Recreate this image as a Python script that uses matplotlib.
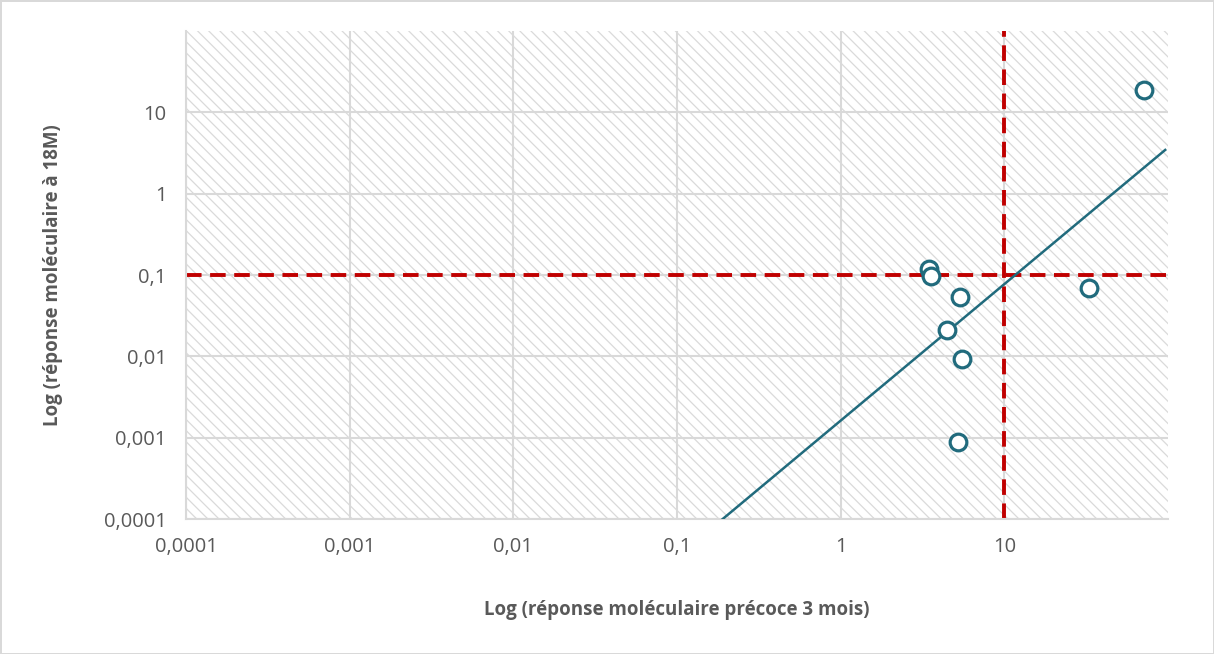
import matplotlib
matplotlib.use("Agg")
import matplotlib.pyplot as plt

# Data
x_vals = [71, 3.45, 3.55, 5.34, 4.45, 5.5, 5.19, 32.8]
y_vals = [19, 0.12, 0.098, 0.053, 0.021, 0.0093, 0.00089, 0.07]

# Trend line (power fit) end points
trend_x = [0.19, 96]
trend_y = [0.0001, 3.45]

# Threshold lines
x_threshold = 10
y_threshold = 0.1

x_ticks = [0.0001, 0.001, 0.01, 0.1, 1, 10]
y_ticks = [0.0001, 0.001, 0.01, 0.1, 1, 10]
tick_labels = ["0,0001", "0,001", "0,01", "0,1", "1", "10"]

x_label = "Log (réponse moléculaire précoce 3 mois)"
y_label = "Log (réponse moléculaire à 18M)"

TEAL = "#216B7D"
RED = "#C00000"
GRID = "#D9D9D9"
TEXT = "#595959"

plt.rcParams["font.family"] = ["Open Sans", "DejaVu Sans"]
plt.rcParams["hatch.linewidth"] = 0.9

fig = plt.figure(figsize = (12.14, 6.54), dpi = 100)
fig.patch.set_edgecolor(GRID)
fig.patch.set_linewidth(2)
ax = fig.add_axes([0.1532, 0.2064, 0.809, 0.7462])

# Hatched plot area
ax.patch.set_facecolor("white")
ax.patch.set_hatch("\\\\\\")
ax.patch.set_edgecolor("#DADADA")
ax.patch.set_linewidth(0)

ax.set_xscale("log")
ax.set_yscale("log")
ax.set_xlim(1e-4, 1e2)
ax.set_ylim(1e-4, 1e2)

ax.set_xticks(x_ticks)
ax.set_xticklabels(tick_labels)
ax.set_yticks(y_ticks)
ax.set_yticklabels(tick_labels)
ax.minorticks_off()
ax.tick_params(axis = "both", length = 0, labelsize = 14.5, colors = TEXT)
ax.tick_params(axis = "x", pad = 13)
ax.tick_params(axis = "y", pad = 14)

ax.grid(True, which = "major", color = GRID, linewidth = 1.5)
ax.set_axisbelow(True)
for side in ["top", "right"]:
    ax.spines[side].set_visible(False)
for side in ["left", "bottom"]:
    ax.spines[side].set_color(GRID)
    ax.spines[side].set_linewidth(1.5)

# Threshold lines
ax.axvline(x_threshold, color = RED, linewidth = 2.8, dashes = (4, 2.2), zorder = 2)
ax.axhline(y_threshold, color = RED, linewidth = 2.8, dashes = (4, 2.2), zorder = 2)

# Trend line and points
ax.plot(trend_x, trend_y, color = TEAL, linewidth = 1.8, zorder = 3)
ax.plot(x_vals, y_vals, linestyle = "none", marker = "o", markersize = 12,
        markerfacecolor = "white", markeredgecolor = TEAL, markeredgewidth = 2.3,
        zorder = 4, clip_on = False)

ax.set_xlabel(x_label, fontsize = 13.5, fontweight = "bold", color = TEXT, labelpad = 31)
ax.set_ylabel(y_label, fontsize = 13.5, fontweight = "bold", color = TEXT, labelpad = 29)

fig.savefig("out.png", dpi = 100)
